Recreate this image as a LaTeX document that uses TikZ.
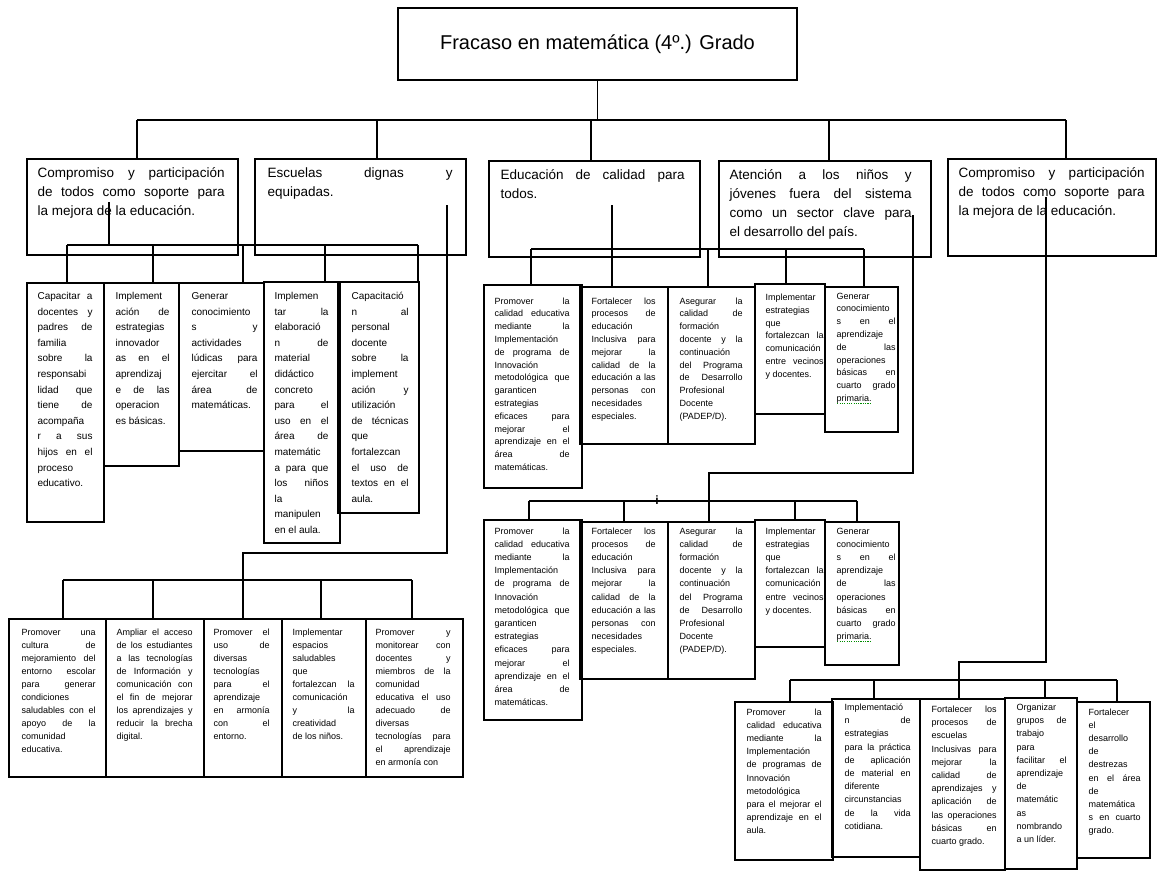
\documentclass[tikz,border=0pt]{standalone}
\usepackage{fontspec}
\setmainfont{Liberation Sans}
\usetikzlibrary{fit}
\newcommand\Lbr{\linebreak}
\newlength\gwl
\newcommand\gw[1]{\settowidth\gwl{#1}\rlap{\color{green!55!black}\raisebox{-2.6bp}{\hbox to\gwl{\xleaders\hbox to 2.2bp{\hss\rule{1.1bp}{0.9bp}\hss}\hfil}}}#1}
\newcommand\txsetup{\tolerance=10000 \hbadness=10000 \hfuzz=4bp \hyphenpenalty=10000 \exhyphenpenalty=10000 \parindent=0pt }
\tikzset{
 bxs/.style={draw, line width=1.3bp, inner sep=0pt},
 cn/.style={line width=1.2bp},
 tx/.style={inner sep=0pt, align=justify},
 sT/.style={tx, font=\fontsize{13.5bp}{19.3bp}\selectfont\txsetup},
 sL/.style={tx, font=\fontsize{10bp}{15.6bp}\selectfont\txsetup},
 sM/.style={tx, font=\fontsize{9bp}{12.8bp}\selectfont\txsetup},
 sN/.style={tx, font=\fontsize{9bp}{13.2bp}\selectfont\txsetup},
 sB/.style={tx, font=\fontsize{9bp}{13bp}\selectfont\txsetup},
 sR/.style={tx, font=\fontsize{9bp}{13.2bp}\selectfont\txsetup},
}
\newcommand\bx[9]{%
 \node[bxs, fit={(#3,#4) (#5,#6)}] (#1) {};
 \node[#2, text width=#7bp, anchor=north west] (#1t) at ([shift={(#8)}]#1.north west) {\strut #9};}
\begin{document}
\begin{tikzpicture}[x=1bp,y=-1bp]
\fill[white] (0,0) rectangle (1157,872);
% title
\node[bxs, fit={(398,8) (797,80)}] (title) {};
\node[font=\fontsize{20bp}{24bp}\selectfont, inner sep=0pt] (titlet) at (title.center) {Fracaso en matemática (4º.) Grado};
% level 1
\bx{T1}{sT}{27}{159}{238}{255}{187}{11,5}{Compromiso y participación\Lbr de todos como soporte para\Lbr la mejora de la educación.}
\bx{T2}{sT}{255}{159}{466}{255}{185}{13,5}{Escuelas dignas y\Lbr equipadas.}
\bx{T3}{sT}{489}{161}{700}{257}{184}{12,5}{Educación de calidad para\Lbr todos.}
\bx{T4}{sT}{719}{161}{931}{257}{182}{11,5}{Atención a los niños y\Lbr jóvenes fuera del sistema\Lbr como un sector clave para\Lbr el desarrollo del país.}
\bx{T5}{sT}{948}{159}{1156}{256}{186}{11,5}{Compromiso y participación\Lbr de todos como soporte para\Lbr la mejora de la educación.}
% left group
\bx{lA}{sL}{27}{283}{104}{522}{55}{11,6}{Capacitar a\Lbr docentes y\Lbr padres de\Lbr familia\Lbr sobre la\Lbr responsabi\Lbr lidad que\Lbr tiene de\Lbr acompaña\Lbr r a sus\Lbr hijos en el\Lbr proceso\Lbr educativo.}
\bx{lB}{sL}{104}{283}{179}{466}{54}{12,6}{Implement\Lbr ación de\Lbr estrategias\Lbr innovador\Lbr as en el\Lbr aprendizaj\Lbr e de las\Lbr operacion\Lbr es básicas.}
\bx{lC}{sL}{179}{283}{264}{451}{66}{13,6}{Generar\Lbr conocimiento\Lbr s y\Lbr actividades\Lbr lúdicas para\Lbr ejercitar el\Lbr área de\Lbr matemáticas.}
\bx{lD}{sL}{264}{282}{340}{543}{54}{11,7}{Implemen\Lbr tar la\Lbr elaboració\Lbr n de\Lbr material\Lbr didáctico\Lbr concreto\Lbr para el\Lbr uso en el\Lbr área de\Lbr matemátic\Lbr a para que\Lbr los niños\Lbr la\Lbr manipulen\Lbr en el aula.}
\bx{lE}{sL}{338}{282}{419}{513}{57}{14,7}{Capacitació\Lbr n al\Lbr personal\Lbr docente\Lbr sobre la\Lbr implement\Lbr ación y\Lbr utilización\Lbr de técnicas\Lbr que\Lbr fortalezcan\Lbr el uso de\Lbr textos en el\Lbr aula.}
% middle row 1
\bx{M1}{sM}{484}{285}{582}{488}{75}{11,10.5}{Promover la\Lbr calidad educativa\Lbr mediante la\Lbr Implementación\Lbr de programa de\Lbr Innovación\Lbr metodológica que\Lbr garanticen\Lbr estrategias\Lbr eficaces para\Lbr mejorar el\Lbr aprendizaje en el\Lbr área de\Lbr matemáticas.}
\bx{M2}{sM}{580}{287}{668}{444}{64}{12,8.5}{Fortalecer los\Lbr procesos de\Lbr educación\Lbr Inclusiva para\Lbr mejorar la\Lbr calidad de la\Lbr educación a las\Lbr personas con\Lbr necesidades\Lbr especiales.}
\bx{M3}{sM}{668}{287}{755}{444}{63}{12,8.5}{Asegurar la\Lbr calidad de\Lbr formación\Lbr docente y la\Lbr continuación\Lbr del Programa\Lbr de Desarrollo\Lbr Profesional\Lbr Docente\Lbr (PADEP/D).}
\bx{M4}{sM}{755}{284}{825}{414}{58}{11,8}{Implementar\Lbr estrategias\Lbr que\Lbr fortalezcan la\Lbr comunicación\Lbr entre vecinos\Lbr y docentes.}
\bx{M5}{sM}{825}{287}{898}{432}{59}{12,3.5}{Generar\Lbr conocimiento\Lbr s en el\Lbr aprendizaje\Lbr de las\Lbr operaciones\Lbr básicas en\Lbr cuarto grado\Lbr \gw{primaria.}}
% middle row 2
\bx{N1}{sN}{484}{520}{582}{720}{75}{11,5.3}{Promover la\Lbr calidad educativa\Lbr mediante la\Lbr Implementación\Lbr de programa de\Lbr Innovación\Lbr metodológica que\Lbr garanticen\Lbr estrategias\Lbr eficaces para\Lbr mejorar el\Lbr aprendizaje en el\Lbr área de\Lbr matemáticas.}
\bx{N2}{sN}{580}{522}{668}{679}{64}{12,3.3}{Fortalecer los\Lbr procesos de\Lbr educación\Lbr Inclusiva para\Lbr mejorar la\Lbr calidad de la\Lbr educación a las\Lbr personas con\Lbr necesidades\Lbr especiales.}
\bx{N3}{sN}{668}{522}{755}{679}{63}{12,3.3}{Asegurar la\Lbr calidad de\Lbr formación\Lbr docente y la\Lbr continuación\Lbr del Programa\Lbr de Desarrollo\Lbr Profesional\Lbr Docente\Lbr (PADEP/D).}
\bx{N4}{sN}{755}{520}{825}{647}{58}{11,5.3}{Implementar\Lbr estrategias\Lbr que\Lbr fortalezcan la\Lbr comunicación\Lbr entre vecinos\Lbr y docentes.}
\bx{N5}{sN}{825}{522}{899}{665}{59}{12,3.3}{Generar\Lbr conocimiento\Lbr s en el\Lbr aprendizaje\Lbr de las\Lbr operaciones\Lbr básicas en\Lbr cuarto grado\Lbr \gw{primaria.}}
% bottom left row
\bx{L1}{sB}{9}{619}{106}{777}{74}{13,7.4}{Promover una\Lbr cultura de\Lbr mejoramiento del\Lbr entorno escolar\Lbr para generar\Lbr condiciones\Lbr saludables con el\Lbr apoyo de la\Lbr comunidad\Lbr educativa.}
\bx{L2}{sB}{106}{619}{204}{777}{76}{11,7.4}{Ampliar el acceso\Lbr de los estudiantes\Lbr a las tecnologías\Lbr de Información y\Lbr comunicación con\Lbr el fin de mejorar\Lbr los aprendizajes y\Lbr reducir la brecha\Lbr digital.}
\bx{L3}{sB}{204}{619}{282}{777}{56}{10,7.4}{Promover el\Lbr uso de\Lbr diversas\Lbr tecnologías\Lbr para el\Lbr aprendizaje\Lbr en armonía\Lbr con el\Lbr entorno.}
\bx{L4}{sB}{282}{619}{366}{777}{62}{11,7.4}{Implementar\Lbr espacios\Lbr saludables\Lbr que\Lbr fortalezcan la\Lbr comunicación\Lbr y la\Lbr creatividad\Lbr de los niños.}
\bx{L5}{sB}{366}{619}{463}{777}{75}{10,7.4}{Promover y\Lbr monitorear con\Lbr docentes y\Lbr miembros de la\Lbr comunidad\Lbr educativa el uso\Lbr adecuado de\Lbr diversas\Lbr tecnologías para\Lbr el aprendizaje\Lbr en armonía con}
% bottom right row
\bx{R1}{sR}{735}{702}{833}{860}{75}{12,4.3}{Promover la\Lbr calidad educativa\Lbr mediante la\Lbr Implementación\Lbr de programas de\Lbr Innovación\Lbr metodológica\Lbr para el mejorar el\Lbr aprendizaje en el\Lbr aula.}
\bx{R2}{sR}{832}{699}{920}{857}{66}{13,2.8}{Implementació\Lbr n de\Lbr estrategias\Lbr para la práctica\Lbr de aplicación\Lbr de material en\Lbr diferente\Lbr circunstancias\Lbr de la vida\Lbr cotidiana.}
\bx{R3}{sR}{920}{699}{1005}{870}{65}{12,4.8}{Fortalecer los\Lbr procesos de\Lbr escuelas\Lbr Inclusivas para\Lbr mejorar la\Lbr calidad de\Lbr aprendizajes y\Lbr aplicación de\Lbr las operaciones\Lbr básicas en\Lbr cuarto grado.}
\bx{R4}{sR}{1005}{698}{1077}{869}{50}{12,3.8}{Organizar\Lbr grupos de\Lbr trabajo\Lbr para\Lbr facilitar el\Lbr aprendizaje\Lbr de\Lbr matemátic\Lbr as\Lbr nombrando\Lbr a un líder.}
\bx{R5}{sR}{1077}{702}{1150}{858}{52}{12,4.3}{Fortalecer\Lbr el\Lbr desarrollo\Lbr de\Lbr destrezas\Lbr en el área\Lbr de\Lbr matemática\Lbr s en cuarto\Lbr grado.}
% connectors: top
\coordinate (b0l) at (137,120);
\coordinate (b0r) at (1066,120);
\draw[cn] (title.south) -- (title.south |- b0l);
\draw[cn] (b0l) -- (b0r);
\foreach \x/\b in {137/T1,377/T2,591/T3,829/T4,1066/T5} \draw[cn] (\x,120) -- (\x,120 |- \b.north);
% left group
\draw[cn] (109,202) -- (109,245);
\draw[cn] (67,245) -- (418,245);
\foreach \x/\b in {67/lA,153/lB,243/lC,325/lD,418/lE} \draw[cn] (\x,245) -- (\x,245 |- \b.north);
\draw[cn] (447,205) |- (243,553) -- (243,580);
\draw[cn] (63,580) -- (412,580);
\foreach \x/\b in {63/L1,153/L2,243/L3,321/L4,412/L5} \draw[cn] (\x,580) -- (\x,580 |- \b.north);
% middle group
\draw[cn] (612,205) -- (612,249);
\draw[cn] (531,249) -- (864,249);
\foreach \x/\b in {531/M1,612/M2,708/M3,786/M4,864/M5} \draw[cn] (\x,249) -- (\x,249 |- \b.north);
\draw[cn] (913,215) |- (709,473) -- (709,501);
\draw[cn] (529,501) -- (857,501);
\foreach \x/\b in {529/N1,624/N2,709/N3,795/N4,857/N5} \draw[cn] (\x,501) -- (\x,501 |- \b.north);
\node[font=\bfseries\fontsize{12bp}{12bp}\selectfont, inner sep=0pt] (mark) at (657,500) {i};
% right group
\draw[cn] (1046,197) |- (959,662) -- (959,680);
\draw[cn] (790,680) -- (1117,680);
\foreach \x/\b in {790/R1,874/R2,959/R3,1045/R4,1117/R5} \draw[cn] (\x,680) -- (\x,680 |- \b.north);
\end{tikzpicture}
\end{document}
